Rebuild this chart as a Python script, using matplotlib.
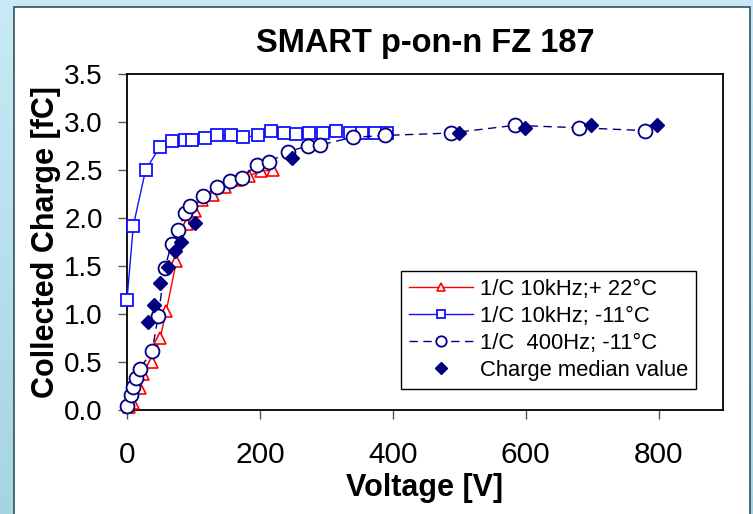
import matplotlib.pyplot as plt
import numpy as np
from matplotlib.patches import Rectangle

plt.rcParams['font.family'] = ['Liberation Sans', 'DejaVu Sans']

# 1/C 10kHz, +22 C
red_v = [3, 8.5, 19.6, 24.6, 37.7, 50, 59, 74.4, 90, 102, 112.6, 129, 147, 166, 183, 201.5, 219]
red_q = [0.03, 0.07, 0.23, 0.375, 0.50, 0.75, 1.03, 1.55, 1.94, 2.075, 2.19, 2.24, 2.32, 2.40, 2.44, 2.485, 2.50]

# 1/C 10kHz, -11 C
blue_v = [0, 9.5, 28, 49.5, 68, 87, 98.5, 117.5, 136, 157, 175, 197.5, 216, 237, 255, 274, 295, 314, 335, 354,
          373, 391.5]
blue_q = [1.15, 1.92, 2.50, 2.74, 2.80, 2.81, 2.81, 2.83, 2.86, 2.86, 2.84, 2.86, 2.91, 2.89, 2.87, 2.89, 2.89,
          2.91, 2.89, 2.89, 2.89, 2.89]

# 1/C 400Hz, -11 C
circ_v = [0.5, 5.5, 9.5, 14, 19, 37.7, 47, 57, 67, 77, 87, 95.5, 115, 135.7, 155, 173, 195, 213.6, 241.7, 272,
          290, 339.6, 389, 487, 583.5, 681, 780]
circ_q = [0.045, 0.16, 0.24, 0.33, 0.43, 0.61, 0.98, 1.48, 1.73, 1.87, 2.05, 2.13, 2.23, 2.32, 2.39, 2.42, 2.55,
          2.58, 2.69, 2.75, 2.76, 2.84, 2.86, 2.885, 2.965, 2.94, 2.91]

# charge median value
dia_v = [31, 41, 50, 62, 72, 81, 102.5, 249, 500, 598.5, 699, 797]
dia_q = [0.92, 1.09, 1.32, 1.49, 1.66, 1.755, 1.95, 2.62, 2.885, 2.94, 2.965, 2.965]

x_ticks = [0, 200, 400, 600, 800]
y_ticks = [0.0, 0.5, 1.0, 1.5, 2.0, 2.5, 3.0, 3.5]

fig = plt.figure(figsize=(7.53, 5.14), dpi=100)

# light blue gradient background and white panel
bg = fig.add_axes([0, 0, 1, 1], zorder=-10)
grad = np.linspace(0, 1, 256).reshape(-1, 1)
bg.imshow(grad, aspect='auto', cmap=plt.matplotlib.colors.LinearSegmentedColormap.from_list(
    'bg', ['#c9e9f6', '#a6d5e2']), extent=[0, 1, 0, 1])
bg.add_patch(Rectangle((14 / 753, -0.05), (750 - 14) / 753, 1.05 - 7 / 514, facecolor='white',
                       edgecolor='#33505c', lw=1.2))
bg.set_xlim(0, 1)
bg.set_ylim(0, 1)
bg.axis('off')

ax = fig.add_axes([127 / 753, 1 - 410 / 514, (723 - 127) / 753, (410 - 74) / 514])
ax.set_facecolor('none')

ax.plot(red_v, red_q, color='red', lw=1, marker='^', ms=8, mfc='white', mec='red', mew=1.2,
        label='1/C 10kHz;+ 22°C', clip_on=False, zorder=3)
ax.plot(blue_v, blue_q, color='#1010ff', lw=1, marker='s', ms=8, mfc='white', mec='#1010ff', mew=1.3,
        label='1/C 10kHz; -11°C', clip_on=False, zorder=4)
ax.plot(circ_v, circ_q, color='#000080', lw=1, ls=(0, (6, 4)), marker='o', ms=10, mfc='white',
        mec='#000080', mew=1.3, label='1/C  400Hz; -11°C', clip_on=False, zorder=5)
ax.plot(dia_v, dia_q, ls='none', marker='D', ms=7.5, color='#000080', label='Charge median value',
        clip_on=False, zorder=6)

ax.set_xlim(0, 897)
ax.set_ylim(0, 3.5)
ax.set_xticks(x_ticks)
ax.set_yticks(y_ticks)
ax.set_yticklabels([f'{t:.1f}' for t in y_ticks])
ax.tick_params(axis='x', direction='out', length=6.5, width=1, color='#555555', pad=16, labelsize=21.5)
ax.tick_params(axis='y', direction='out', length=6.5, width=1, color='#555555', pad=11, labelsize=20)
for s in ax.spines.values():
    s.set_linewidth(1.3)
    s.set_color('black')

ax.set_title('SMART p-on-n FZ 187', fontsize=23.5, fontweight='bold', pad=16)
ax.set_xlabel('Voltage [V]', fontsize=22, fontweight='bold', labelpad=3)
ax.set_ylabel('Collected Charge [fC]', fontsize=22, fontweight='bold', labelpad=2)

leg = ax.legend(loc='lower left', bbox_to_anchor=(401 / 753, 1 - 389 / 514), bbox_transform=fig.transFigure,
                borderaxespad=0, fontsize=15.8, frameon=True, fancybox=False, framealpha=1, edgecolor='black',
                handlelength=2.9, handletextpad=0.3, labelspacing=0.27, borderpad=0.38, markerscale=0.75)
leg.get_frame().set_linewidth(1)

plt.savefig('out.png')
